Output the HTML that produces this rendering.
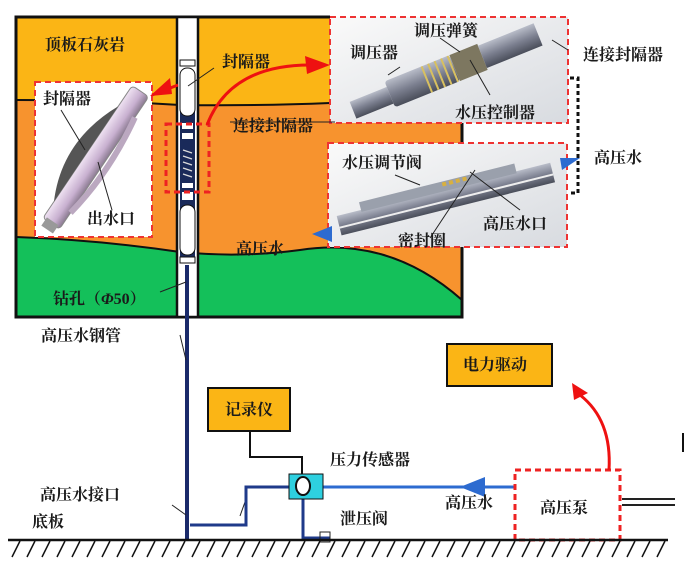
<!DOCTYPE html>
<html><head><meta charset="utf-8"><style>
body{margin:0;background:#fff;width:684px;height:565px;overflow:hidden}
text{font-family:"Liberation Serif","Noto Serif CJK SC",serif;font-weight:bold;font-size:16px;fill:#1a1a1a}
</style></head><body>
<svg width="684" height="565" viewBox="0 0 684 565" xmlns="http://www.w3.org/2000/svg">
<defs>
<linearGradient id="bg" x1="0" y1="0" x2="1" y2="1"><stop offset="0" stop-color="#fafafa"/><stop offset="1" stop-color="#d8dbe0"/></linearGradient>
<linearGradient id="cyl" x1="0" y1="0" x2="0" y2="1"><stop offset="0" stop-color="#b8bcc8"/><stop offset=".5" stop-color="#7c8090"/><stop offset="1" stop-color="#4a4e5a"/></linearGradient>
<linearGradient id="pk" x1="0" y1="0" x2="0" y2="1"><stop offset="0" stop-color="#efe2f2"/><stop offset=".6" stop-color="#c8b0d0"/><stop offset="1" stop-color="#8a7a90"/></linearGradient>
</defs>
<rect x="16" y="17" width="446" height="300" fill="#fbb515"/>
<path d="M16 100 Q100 100 180 105 Q260 106 330 103 L330 123 L462 123 L462 317 L16 317Z" fill="#f7932e"/>
<path d="M16 237 Q100 240 180 252 Q240 258 300 250 Q390 236 462 300 L462 317 L16 317Z" fill="#14c05a"/>
<path d="M16 100 Q100 100 180 105 Q260 106 330 103" fill="none" stroke="#111" stroke-width="2"/>
<path d="M16 237 Q100 240 180 252 Q240 258 300 250 Q390 236 462 300" fill="none" stroke="#111" stroke-width="2"/>
<path d="M330 17 L16 17 L16 317 L462 317 L462 123" fill="none" stroke="#111" stroke-width="3"/>
<rect x="177" y="17" width="21" height="300" fill="#fff" stroke="#111" stroke-width="2.5"/>
<rect x="180" y="110" width="15" height="150" fill="#1a2a5a"/>
<rect x="180" y="60" width="15" height="6" fill="#fff" stroke="#111"/>
<rect x="180" y="68" width="15" height="48" rx="7" fill="#fff" stroke="#111"/>
<rect x="182" y="123" width="11" height="6" fill="#fff"/><rect x="182" y="133" width="11" height="6" fill="#fff"/>
<path d="M183 150l9 3M183 156l9 3M183 162l9 3M183 168l9 3M183 174l9 3" stroke="#ddd" stroke-width="1.3"/>
<rect x="182" y="183" width="11" height="5" fill="#fff"/><rect x="182" y="192" width="11" height="8" fill="#fff"/>
<rect x="180" y="205" width="15" height="50" rx="7" fill="#fff" stroke="#111"/>
<rect x="180" y="257" width="15" height="6" fill="#fff" stroke="#111"/>
<line x1="187" y1="265" x2="187" y2="540" stroke="#1a2a6a" stroke-width="4"/>
<rect x="35" y="82" width="117" height="155" fill="#fff" stroke="#e33" stroke-width="2" stroke-dasharray="6,4"/>
<g transform="rotate(-56 93 158)">
<rect x="15" y="150" width="160" height="20" rx="4" fill="url(#pk)" stroke="#888"/>
<path d="M35 150 Q90 122 150 150Z" fill="#555"/>
<path d="M35 170 Q90 180 150 170" fill="none" stroke="#bba8c0" stroke-width="6"/>
<rect x="8" y="153" width="10" height="14" fill="#999"/>
</g>
<rect x="166" y="124" width="43" height="68" fill="none" stroke="#e22" stroke-width="3" stroke-dasharray="6,4"/>
<path d="M178 85 L152 95" stroke="#e11" stroke-width="3"/><path d="M150 96 L170 78 L172 94Z" fill="#e11"/>
<path d="M207 125 Q230 65 310 65" fill="none" stroke="#e11" stroke-width="3"/><path d="M330 65 L305 56 L307 74Z" fill="#e11"/>
<rect x="330" y="17" width="238" height="106" fill="url(#bg)" stroke="#e33" stroke-width="2" stroke-dasharray="6,4"/>
<g transform="rotate(-22 450 70)">
<rect x="345" y="62" width="40" height="18" fill="url(#cyl)"/>
<rect x="385" y="56" width="70" height="28" rx="3" fill="url(#cyl)"/>
<rect x="455" y="56" width="30" height="28" fill="#7d7760"/>
<rect x="485" y="58" width="60" height="24" fill="url(#cyl)"/>
<path d="M425 56v28M432 56v28M439 56v28M446 56v28M453 56v28" stroke="#d8c060" stroke-width="2"/>
</g>
<rect x="328" y="143" width="239" height="104" fill="url(#bg)" stroke="#e33" stroke-width="2" stroke-dasharray="6,4"/>
<g transform="rotate(-14 450 195)">
<rect x="335" y="188" width="220" height="20" fill="url(#cyl)"/>
<rect x="360" y="180" width="160" height="10" fill="#9aa0ac"/>
<line x1="335" y1="200" x2="555" y2="200" stroke="#eee" stroke-width="2"/>
<path d="M445 183h4M452 183h4M459 183h4M466 183h4" stroke="#d8b040" stroke-width="4"/>
</g>
<path d="M312 234 L332 226 L332 242Z" fill="#2d6bd0"/>
<path d="M560 158 L580 158 L562 170Z" fill="#2d6bd0"/>
<path d="M570 78 H578 V193 H570" fill="none" stroke="#111" stroke-width="3" stroke-dasharray="4,3"/>
<g stroke="#222" stroke-width="1" fill="none">
<path d="M188 86 L214 68"/><path d="M61 110 L85 150"/><path d="M98 162 L112 210"/>
<path d="M335 122 L230 122"/><path d="M160 292 L186 282"/>
<path d="M400 67 L388 75"/><path d="M440 38 L460 52"/><path d="M552 40 L568 50"/>
<path d="M470 60 L490 95"/><path d="M395 175 L420 185"/><path d="M475 170 L430 238"/><path d="M470 172 L520 210"/>
<path d="M180 335 L186 360"/><path d="M172 505 L186 515"/><path d="M245 502 L240 516"/>
</g>
<polyline points="190,525 246,525 246,487 290,487" fill="none" stroke="#1f3a8a" stroke-width="3"/>
<line x1="323" y1="487" x2="515" y2="487" stroke="#2d6bd0" stroke-width="3"/>
<path d="M460 487 L485 477 L485 497Z" fill="#2d6bd0"/>
<polyline points="303,498 303,538 330,538" fill="none" stroke="#1f3a8a" stroke-width="3"/>
<path d="M320 532h10v10h-10z" fill="none" stroke="#222"/>
<polyline points="250,431 250,457 302,457 302,476" fill="none" stroke="#111" stroke-width="2"/>
<rect x="289" y="474" width="34" height="25" fill="#2ed0e0" stroke="#111"/>
<ellipse cx="303" cy="486" rx="7" ry="9" fill="#fff" stroke="#111" stroke-width="2"/>
<rect x="208" y="388" width="82" height="43" fill="#fbb515" stroke="#111" stroke-width="2"/>
<rect x="447" y="344" width="105" height="42" fill="#fbb515" stroke="#111" stroke-width="2"/>
<rect x="515" y="470" width="105" height="70" fill="none" stroke="#e22" stroke-width="3" stroke-dasharray="6,4"/>
<path d="M609 470 Q612 420 580 395" fill="none" stroke="#e11" stroke-width="3"/><path d="M572 383 L588 393 L574 400Z" fill="#e11"/>
<path d="M622 499h53M622 505h53" stroke="#222" stroke-width="2"/>
<line x1="683" y1="433" x2="683" y2="452" stroke="#111" stroke-width="2"/>
<line x1="8" y1="540" x2="668" y2="540" stroke="#111" stroke-width="2.5"/>
<path d="M20 541 l-8 16 M35 541 l-8 16 M50 541 l-8 16 M65 541 l-8 16 M80 541 l-8 16 M95 541 l-8 16 M110 541 l-8 16 M125 541 l-8 16 M140 541 l-8 16 M155 541 l-8 16 M170 541 l-8 16 M185 541 l-8 16 M200 541 l-8 16 M215 541 l-8 16 M230 541 l-8 16 M245 541 l-8 16 M260 541 l-8 16 M275 541 l-8 16 M290 541 l-8 16 M305 541 l-8 16 M320 541 l-8 16 M335 541 l-8 16 M350 541 l-8 16 M365 541 l-8 16 M380 541 l-8 16 M395 541 l-8 16 M410 541 l-8 16 M425 541 l-8 16 M440 541 l-8 16 M455 541 l-8 16 M470 541 l-8 16 M485 541 l-8 16 M500 541 l-8 16 M515 541 l-8 16 M530 541 l-8 16 M545 541 l-8 16 M560 541 l-8 16 M575 541 l-8 16 M590 541 l-8 16 M605 541 l-8 16 M620 541 l-8 16 M635 541 l-8 16 M650 541 l-8 16 M665 541 l-8 16" stroke="#111" stroke-width="1.5"/>
<text x="45" y="50">顶板石灰岩</text>
<text x="222" y="67">封隔器</text>
<text x="43" y="104">封隔器</text>
<text x="87" y="224">出水口</text>
<text x="233" y="131">连接封隔器</text>
<text x="236" y="254">高压水</text>
<text x="53" y="304">钻孔（<tspan font-style="italic">Φ</tspan>50）</text>
<text x="350" y="58">调压器</text>
<text x="414" y="36">调压弹簧</text>
<text x="583" y="60">连接封隔器</text>
<text x="455" y="118">水压控制器</text>
<text x="342" y="168">水压调节阀</text>
<text x="594" y="163">高压水</text>
<text x="483" y="229">高压水口</text>
<text x="398" y="246">密封圈</text>
<text x="41" y="341">高压水钢管</text>
<text x="40" y="500">高压水接口</text>
<text x="32" y="527">底板</text>
<text x="225" y="415">记录仪</text>
<text x="330" y="465">压力传感器</text>
<text x="340" y="524">泄压阀</text>
<text x="445" y="508">高压水</text>
<text x="540" y="513">高压泵</text>
<text x="463" y="370">电力驱动</text>
</svg>
</body></html>
